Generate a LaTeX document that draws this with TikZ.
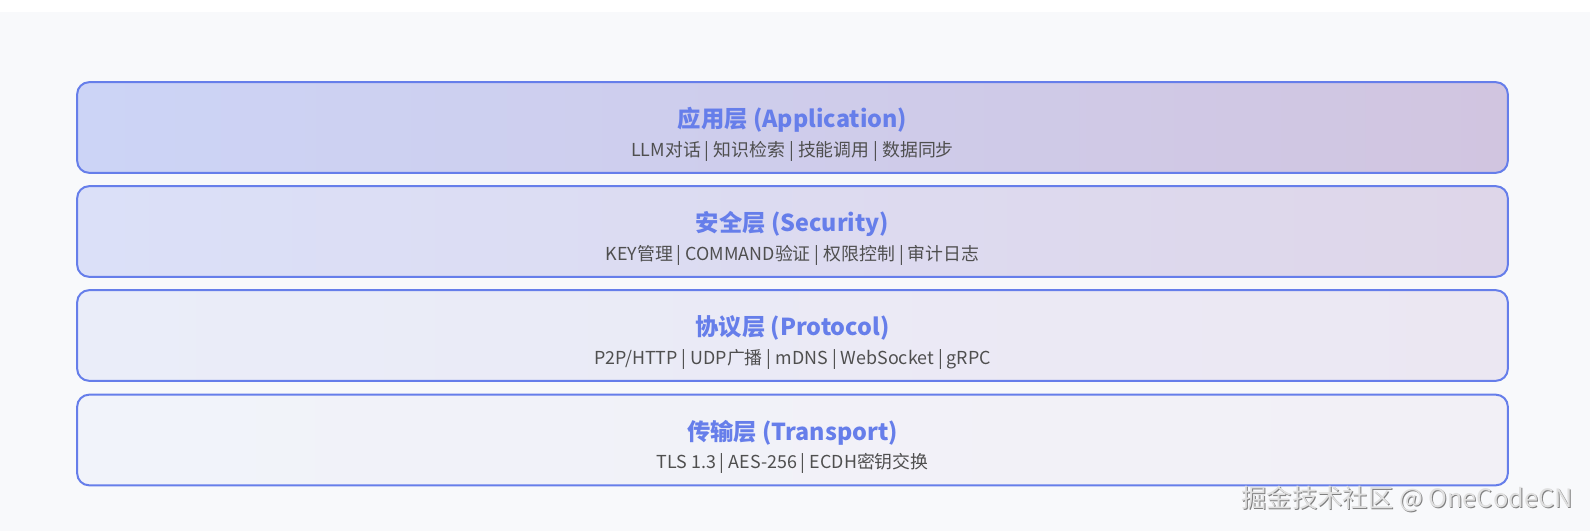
\documentclass[tikz,border=0pt]{standalone}
\usepackage{fontspec}
\setmainfont{Noto Sans CJK SC}
\definecolor{layerblue}{HTML}{667EEA}
\definecolor{subgray}{HTML}{4F4F4F}
\definecolor{pagebg}{HTML}{F8F9FB}
\definecolor{appL}{RGB}{204,212,246}
\definecolor{appR}{RGB}{209,197,224}
\definecolor{secL}{RGB}{219,224,248}
\definecolor{secR}{RGB}{222,214,233}
\definecolor{proL}{RGB}{234,237,249}
\definecolor{proR}{RGB}{235,231,242}
\definecolor{traL}{RGB}{241,243,250}
\definecolor{traR}{RGB}{242,240,246}
\begin{document}
\begin{tikzpicture}[x=0.75pt,y=-0.75pt,
    layer/.style={draw=layerblue, line width=1.5pt, rounded corners=9pt,
        minimum width=1073pt, minimum height=68pt},
    ltitle/.style={text=layerblue, font=\fontsize{17.5}{21}\selectfont\bfseries},
    lsub/.style={text=subgray, font=\fontsize{13.4}{16}\selectfont},
    wmark/.style={font=\fontsize{19}{23}\selectfont}]
    %background
    \fill[white] (0,0) rectangle (1590,531);
    \fill[pagebg] (0,12) rectangle (1590,531);
    \useasboundingbox (0,0) rectangle (1590,531);
    %layers
    \node[layer, left color=appL, right color=appR] (app) at (792.5,127.5) {};
    \node[ltitle] (appt) at (792.5,120) {应用层 (Application)};
    \node[lsub] (apps) at (792.5,151) {LLM对话 | 知识检索 | 技能调用 | 数据同步};
    \node[layer, left color=secL, right color=secR] (sec) at (792.5,231.5) {};
    \node[ltitle] (sect) at (792.5,224) {安全层 (Security)};
    \node[lsub] (secs) at (792.5,255) {KEY管理 | COMMAND验证 | 权限控制 | 审计日志};
    \node[layer, left color=proL, right color=proR] (pro) at (792.5,335.5) {};
    \node[ltitle] (prot) at (792.5,328) {协议层 (Protocol)};
    \node[lsub] (pros) at (792.5,359) {P2P/HTTP | UDP广播 | mDNS | WebSocket | gRPC};
    \node[layer, left color=traL, right color=traR] (tra) at (792.5,440) {};
    \node[ltitle] (trat) at (792.5,432.5) {传输层 (Transport)};
    \node[lsub] (tras) at (792.5,463.5) {TLS 1.3 | AES-256 | ECDH密钥交换};
    %watermark
    \node[wmark, text=gray] (wms) at (1408,500) {掘金技术社区 @ OneCodeCN};
    \node[wmark, text=black!12] (wm) at (1407,499) {掘金技术社区 @ OneCodeCN};
\end{tikzpicture}
\end{document}
